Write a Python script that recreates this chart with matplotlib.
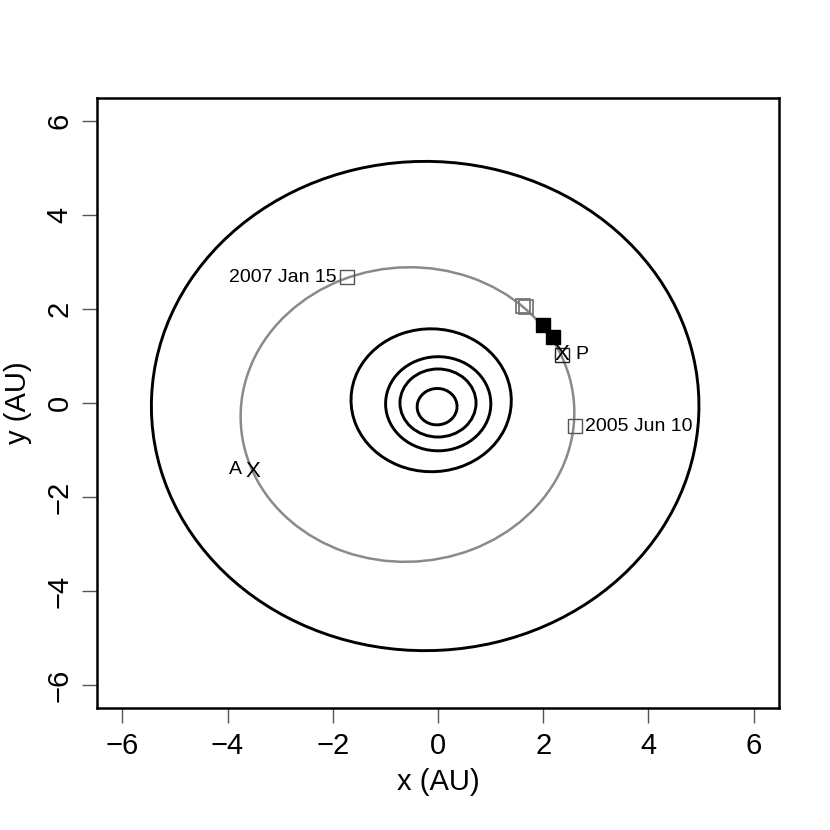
import matplotlib
matplotlib.use("Agg")
import matplotlib.pyplot as plt
from matplotlib.patches import Ellipse

plt.rcParams['font.family'] = ['Liberation Sans', 'DejaVu Sans']

# Orbits: centre x, centre y, semi-major, semi-minor, orientation (deg)
orbit_names = ["Mercury", "Venus", "Earth", "Mars", "Jupiter", "Comet"]
orbit_cx = [-0.017, 0.0, 0.004, -0.13, -0.244, -0.58]
orbit_cy = [-0.078, 0.0, -0.016, 0.058, -0.064, -0.245]
orbit_a = [0.387, 0.723, 1.0, 1.524, 5.203, 3.18]
orbit_b = [0.379, 0.723, 1.0, 1.517, 5.197, 3.12]
orbit_ang = [77.5, 0.0, 103.0, 336.0, 14.7, 23.3]
orbit_col = ["black", "black", "black", "black", "black", "#8a8a8a"]

# Observation points
gray_sq_x = [1.62, 1.67]
gray_sq_y = [2.07, 2.04]
filled_sq_x = [1.99, 2.18]
filled_sq_y = [1.66, 1.40]
date_sq_x = [-1.73, 2.60]
date_sq_y = [2.67, -0.49]
date_labels = ["2007 Jan 15", "2005 Jun 10"]
peri_xy = (2.36, 1.03)
aph_xy = (-3.51, -1.46)

ticks = [-6, -4, -2, 0, 2, 4, 6]
lim = (-6.48, 6.48)

fig = plt.figure(figsize=(8.3, 8.3), dpi=100)
ax = fig.add_axes([97/830, 1-708/830, (779-97)/830, (708-98)/830])

for cx, cy, a, b, ang, col in zip(orbit_cx, orbit_cy, orbit_a, orbit_b, orbit_ang, orbit_col):
    lw = 2.1 if col == "black" else 1.8
    ax.add_patch(Ellipse((cx, cy), 2*a, 2*b, angle=ang, fill=False,
                         edgecolor=col, linewidth=lw, zorder=2))

ax.plot(gray_sq_x, gray_sq_y, ls='none', marker='s', ms=10, mfc='none',
        mec='#777777', mew=1.3, zorder=3)
ax.plot(filled_sq_x, filled_sq_y, ls='none', marker='s', ms=10, mfc='black',
        mec='black', mew=1.0, zorder=3)
ax.plot(date_sq_x, date_sq_y, ls='none', marker='s', ms=10, mfc='none',
        mec='#555555', mew=1.0, zorder=3)
ax.plot([peri_xy[0]], [peri_xy[1]], ls='none', marker='s', ms=10, mfc='none',
        mec='#222222', mew=1.0, zorder=3)

ax.text(date_sq_x[0] - 0.2, date_sq_y[0], date_labels[0], ha='right', va='center', fontsize=14)
ax.text(date_sq_x[1] + 0.2, date_sq_y[1], date_labels[1], ha='left', va='center', fontsize=14)

ax.text(peri_xy[0], peri_xy[1], "X", ha='center', va='center', fontsize=16, zorder=4)
ax.text(peri_xy[0] + 0.25, peri_xy[1], "P", ha='left', va='center', fontsize=14)
ax.text(aph_xy[0], aph_xy[1], "X", ha='center', va='center', fontsize=16, zorder=4)
ax.text(aph_xy[0] - 0.22, aph_xy[1] + 0.05, "A", ha='right', va='center', fontsize=14)

ax.set_xlim(lim)
ax.set_ylim(lim)
ax.set_xticks(ticks)
ax.set_yticks(ticks)
ax.set_xticklabels([str(t).replace('-', '\u2212') for t in ticks])
ax.set_yticklabels([str(t).replace('-', '\u2212') for t in ticks], rotation=90, va='center')
ax.tick_params(axis='both', length=11, width=1.0, color='#555555', labelsize=21, pad=6)
for s in ax.spines.values():
    s.set_linewidth(1.8)
ax.set_xlabel("x (AU)", fontsize=21, labelpad=6)
ax.set_ylabel("y (AU)", fontsize=21, labelpad=10)

fig.savefig("out.png", dpi=100)
